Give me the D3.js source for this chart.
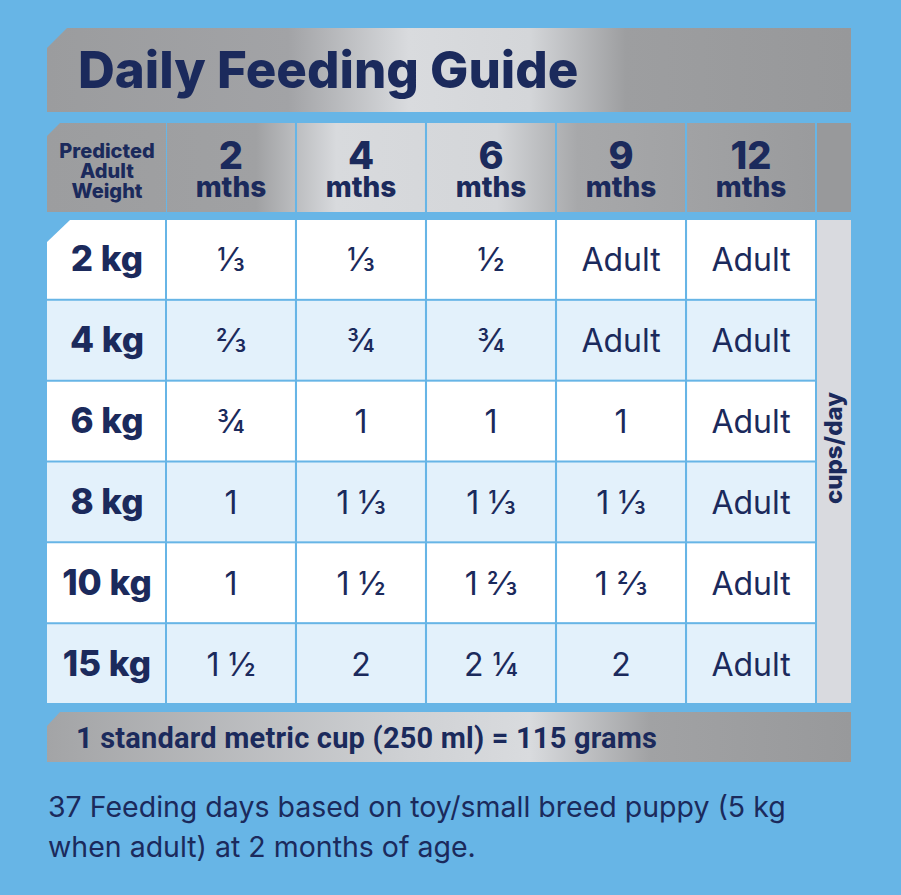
<!DOCTYPE html>
<html><head><style>body{margin:0;background:#67b5e6}</style></head>
<body>
<svg width="901" height="895"></svg>
<script src="https://d3js.org/d3.v7.min.js"></script>
<script>
const months = ["2", "4", "6", "9", "12"];
const weights = ["2 kg", "4 kg", "6 kg", "8 kg", "10 kg", "15 kg"];
const cups = [
  ["⅓", "⅓", "½", "Adult", "Adult"],
  ["⅔", "¾", "¾", "Adult", "Adult"],
  ["¾", "1", "1", "1", "Adult"],
  ["1", "1 ⅓", "1 ⅓", "1 ⅓", "Adult"],
  ["1", "1 ½", "1 ⅔", "1 ⅔", "Adult"],
  ["1 ½", "2", "2 ¼", "2", "Adult"]
];
const title = "Daily Feeding Guide";
const cupNote = "1 standard metric cup (250 ml) = 115 grams";
const footnote = ["37 Feeding days based on toy/small breed puppy (5 kg", "when adult) at 2 months of age."];

const navy = "#1b2a5c";
const font = "Inter, 'Noto Sans', sans-serif";
const svg = d3.select("svg");
svg.append("rect").attr("width", 901).attr("height", 895).attr("fill", "#67b5e6");

const defs = svg.append("defs");
function metal(id, x1, x2, stops) {
  const g = defs.append("linearGradient").attr("id", id)
    .attr("gradientUnits", "userSpaceOnUse").attr("x1", x1).attr("x2", x2).attr("y1", 0).attr("y2", 0);
  stops.forEach(s => g.append("stop").attr("offset", s[0]).attr("stop-color", s[1]));
}
metal("gTitle", 47, 851, [[0, "#9b9c9e"], [0.3, "#a2a3a6"], [0.45, "#d9dbde"], [0.6, "#d4d6d9"], [0.72, "#9d9ea0"], [1, "#97989a"]]);
metal("gHead", 47, 851, [[0, "#9c9d9f"], [0.26, "#a0a1a3"], [0.36, "#d8dadd"], [0.56, "#d4d6d9"], [0.66, "#a7a8aa"], [1, "#98999b"]]);
metal("gFoot", 47, 851, [[0, "#a3a4a6"], [0.45, "#cfd1d4"], [0.6, "#d9dbde"], [0.75, "#a1a2a4"], [1, "#98999b"]]);

// title bar with cut corner
svg.append("path").attr("d", "M67,28 H851 V112 H47 V48 Z").attr("fill", "url(#gTitle)");
svg.append("text").attr("x", 78).attr("y", 88).attr("font-family", font).attr("font-weight", 800)
  .attr("font-size", 51).attr("fill", navy).text(title);

const x = d3.scaleBand().domain(months).range([167, 815]).paddingInner(0.016);
const y = d3.scaleBand().domain(weights).range([220, 703]).paddingInner(0.025);

// header row
svg.append("path").attr("d", "M60,123 H166 V212 H47 V136 Z").attr("fill", "url(#gHead)");
svg.selectAll(".hcell").data(months).join("rect")
  .attr("x", d => x(d)).attr("y", 123).attr("width", x.bandwidth()).attr("height", 89)
  .attr("fill", "url(#gHead)");
svg.append("rect").attr("x", 817).attr("y", 123).attr("width", 34).attr("height", 89).attr("fill", "#98999b");
const lab = svg.append("text").attr("font-family", font).attr("font-weight", 800).attr("font-size", 20)
  .attr("fill", navy).attr("text-anchor", "middle");
["Predicted", "Adult", "Weight"].forEach((t, i) =>
  lab.append("tspan").attr("x", 107).attr("y", 158 + i * 20).text(t));
svg.selectAll(".hnum").data(months).join("text")
  .attr("x", d => x(d) + x.bandwidth() / 2).attr("y", 169).attr("text-anchor", "middle")
  .attr("font-family", font).attr("font-weight", 800).attr("font-size", 38).attr("fill", navy).text(d => d);
svg.selectAll(".hm").data(months).join("text")
  .attr("x", d => x(d) + x.bandwidth() / 2).attr("y", 197).attr("text-anchor", "middle")
  .attr("font-family", font).attr("font-weight", 800).attr("font-size", 28).attr("fill", navy).text("mths");

// rows
const rowFill = (i) => i % 2 ? "#e3f1fb" : "#ffffff";
const rows = svg.selectAll(".row").data(weights).join("g");
rows.append("path")
  .attr("d", (d, i) => {
    const t = y(d), b = y(d) + y.bandwidth();
    return i === 0 ? `M70,${t} H165 V${b} H47 V${t + 22} Z` : `M47,${t} H165 V${b} H47 Z`;
  })
  .attr("fill", (d, i) => rowFill(i));
rows.append("text").attr("x", 107).attr("y", d => y(d) + y.bandwidth() / 2 + 12)
  .attr("text-anchor", "middle").attr("font-family", font).attr("font-weight", 800)
  .attr("font-size", 35).attr("fill", navy).text(d => d);
rows.each(function(w, i) {
  const g = d3.select(this);
  g.selectAll("rect").data(cups[i]).join("rect")
    .attr("x", (v, j) => x(months[j])).attr("y", y(w))
    .attr("width", x.bandwidth()).attr("height", y.bandwidth()).attr("fill", rowFill(i));
  g.selectAll(".v").data(cups[i]).join("text")
    .attr("x", (v, j) => x(months[j]) + x.bandwidth() / 2).attr("y", y(w) + y.bandwidth() / 2 + 12)
    .attr("text-anchor", "middle").attr("font-family", font).attr("font-size", 32)
    .attr("fill", navy).text(v => v);
});

// cups/day side column
svg.append("rect").attr("x", 817).attr("y", 220).attr("width", 34).attr("height", 483).attr("fill", "#d9dadf");
svg.append("text").attr("transform", "translate(842,448) rotate(-90)").attr("text-anchor", "middle")
  .attr("font-family", font).attr("font-weight", 800).attr("font-size", 24).attr("fill", navy).text("cups/day");

// cup note bar
svg.append("path").attr("d", "M60,712 H851 V762 H47 V726 Z").attr("fill", "url(#gFoot)");
svg.append("text").attr("x", 76).attr("y", 748).attr("font-family", "Roboto, sans-serif").attr("font-weight", 700)
  .attr("font-size", 29).attr("letter-spacing", 0.2).attr("fill", navy).text(cupNote);

// footnote
svg.selectAll(".fn").data(footnote).join("text")
  .attr("x", 48).attr("y", (d, i) => 817 + i * 40).attr("font-family", font)
  .attr("font-size", 28.5).attr("fill", navy).text(d => d);
</script>
</body></html>
